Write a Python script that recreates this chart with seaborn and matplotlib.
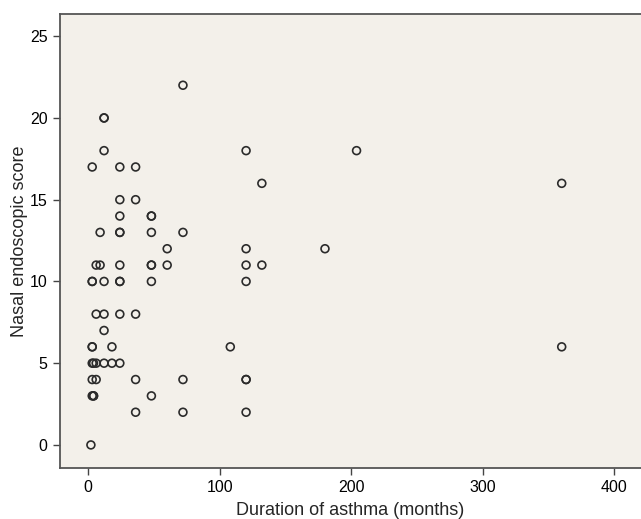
import matplotlib
matplotlib.use("Agg")
import matplotlib.pyplot as plt
import seaborn as sns
import pandas as pd

# duration of asthma (months) and nasal endoscopic score
duration = [72,
            12, 12,
            12, 120, 204,
            3, 24, 36,
            132, 360,
            24, 36,
            24, 48, 48,
            9, 24, 24, 48, 72,
            60, 120, 180,
            6, 9, 24, 48, 48, 60, 120, 132,
            3, 3, 12, 24, 24, 48, 120,
            6, 12, 24, 36,
            12,
            3, 3, 18, 108, 360,
            3, 4, 6, 12, 18, 24,
            3, 6, 36, 72, 120, 120,
            3, 4, 4, 48,
            36, 72, 120,
            2]
score = [22,
         20, 20,
         18, 18, 18,
         17, 17, 17,
         16, 16,
         15, 15,
         14, 14, 14,
         13, 13, 13, 13, 13,
         12, 12, 12,
         11, 11, 11, 11, 11, 11, 11, 11,
         10, 10, 10, 10, 10, 10, 10,
         8, 8, 8, 8,
         7,
         6, 6, 6, 6, 6,
         5, 5, 5, 5, 5, 5,
         4, 4, 4, 4, 4, 4,
         3, 3, 3, 3,
         2, 2, 2,
         0]

x_ticks = [0, 100, 200, 300, 400]
y_ticks = [0, 5, 10, 15, 20, 25]

df = pd.DataFrame({"duration": duration, "score": score})

sns.set_style("ticks")
plt.rcParams["font.family"] = ["Liberation Sans", "DejaVu Sans"]

fig = plt.figure(figsize=(6.41, 5.19), dpi=100)
ax = fig.add_axes([0.0936, 0.0983, 0.9064, 0.8748])
ax.set_facecolor("#f3f0ea")

sns.scatterplot(data=df, x="duration", y="score", ax=ax, marker="o",
                s=32, facecolor="none", edgecolor="#2b2b2b", linewidth=1.2)

ax.set_xlim(-21.5, 420.3)
ax.set_ylim(-1.41, 26.36)
ax.set_xticks(x_ticks)
ax.set_yticks(y_ticks)
ax.tick_params(direction="out", length=5, width=1.0, color="#444444",
               labelsize=11.5, labelcolor="black", pad=4)

for side in ["left", "bottom", "top"]:
    ax.spines[side].set_color("#555555")
    ax.spines[side].set_linewidth(1.3)
ax.spines["right"].set_visible(False)

ax.set_xlabel("Duration of asthma (months)", fontsize=13, labelpad=5)
ax.set_ylabel("Nasal endoscopic score", fontsize=13, labelpad=1)

fig.savefig("out.png", dpi=100)
